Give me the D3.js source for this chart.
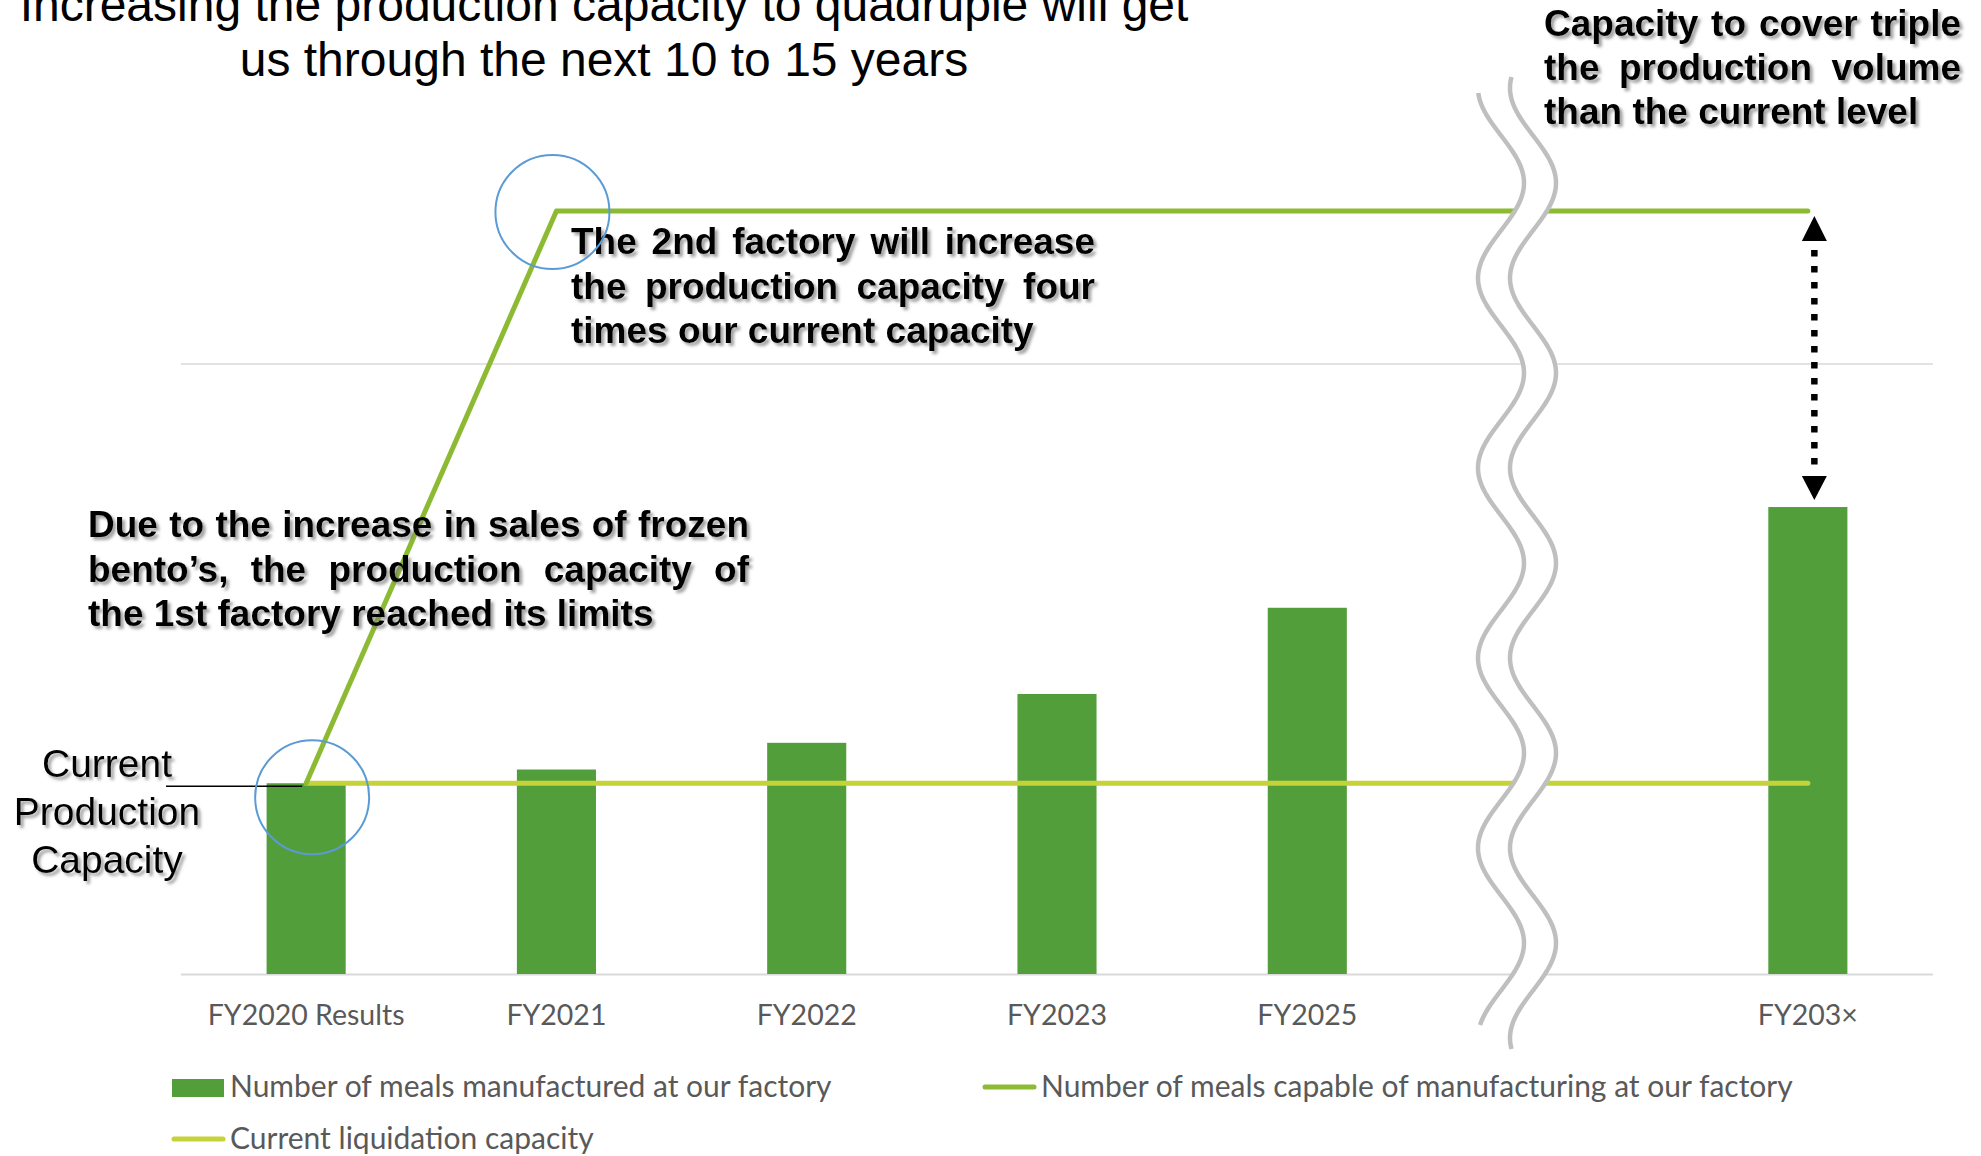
<!DOCTYPE html>
<html>
<head>
<meta charset="utf-8">
<script src="https://cdn.jsdelivr.net/npm/d3@7"></script>
<style>
  html, body { margin: 0; padding: 0; background: #fff; }
  svg { display: block; }
</style>
</head>
<body>
<svg id="chart" width="1981" height="1156"></svg>
<script>
// ---------------- DATA ----------------
const categories = ["FY2020 Results", "FY2021", "FY2022", "FY2023", "FY2025", "", "FY203×"];
const mealsManufactured = [25, 26.8, 30.3, 36.7, 48.0, null, 61.2];
const mealsCapable = [25, 100, 100, 100, 100, 100, 100];
const liquidationCapacity = [25, 25, 25, 25, 25, 25, 25];
const gridTicks = [0, 80];
const legendLabels = [
  "Number of meals manufactured at our factory",
  "Number of meals capable of manufacturing at our factory",
  "Current liquidation capacity"
];
const titleLines = [
  "Increasing the production capacity to quadruple will get",
  "us through the next 10 to 15 years"
];
const noteSecondFactory = [
  "The 2nd factory will increase",
  "the production capacity four",
  "times our current capacity"
];
const noteFirstFactory = [
  "Due to the increase in sales of frozen",
  "bento’s, the production capacity of",
  "the 1st factory reached its limits"
];
const noteTriple = [
  "Capacity to cover triple",
  "the production volume",
  "than the current level"
];
const currentCapacityLabel = ["Current", "Production", "Capacity"];

// ---------------- STYLE ----------------
const C = {
  bar: "#529E3A",
  capable: "#8CBB33",
  liquidation: "#C5D338",
  grid: "#D9D9D9",
  axisText: "#595959",
  circle: "#5B9BD5",
  wave: "#BFBFBF"
};

const svg = d3.select("#chart");
const W = 1981, H = 1156;
svg.append("rect").attr("width", W).attr("height", H).attr("fill", "#fff");

const defs = svg.append("defs");
const sh = defs.append("filter").attr("id", "shadow")
  .attr("x", "-5%").attr("y", "-20%").attr("width", "115%").attr("height", "150%");
sh.append("feDropShadow").attr("dx", 3).attr("dy", 3).attr("stdDeviation", 1.5)
  .attr("flood-color", "#6f6f6f").attr("flood-opacity", 0.65);

const plot = { left: 181, right: 1933, top: 211, bottom: 974 };

const x = d3.scaleBand().domain(categories)
  .range([plot.left, plot.right]).paddingInner(0.684).paddingOuter(0.342);
const y = d3.scaleLinear().domain([0, 100]).range([plot.bottom, plot.top]);
const cx = c => x(c) + x.bandwidth() / 2;

// gridlines
const gridAxis = d3.axisLeft(y).tickValues(gridTicks).tickSize(-(plot.right - plot.left)).tickFormat("");
const gg = svg.append("g").attr("transform", `translate(${plot.left},0)`).call(gridAxis);
gg.select(".domain").remove();
gg.selectAll(".tick line").attr("stroke", C.grid).attr("stroke-width", d => d === 0 ? 2 : 1.5);

// x axis labels
const xAxis = d3.axisBottom(x).tickSize(0).tickPadding(0);
const xg = svg.append("g").attr("transform", `translate(0,${plot.bottom})`).call(xAxis);
xg.select(".domain").remove();
xg.selectAll("text").attr("y", 51).attr("dy", 0)
  .attr("font-family", "Lato, 'Noto Sans', sans-serif").attr("font-size", 28.5)
  .attr("fill", C.axisText);

// bars
svg.append("g").selectAll("rect")
  .data(categories.map((c, i) => ({ c, v: mealsManufactured[i] })).filter(d => d.v != null))
  .join("rect")
  .attr("x", d => x(d.c)).attr("width", x.bandwidth())
  .attr("y", d => y(d.v)).attr("height", d => y(0) - y(d.v))
  .attr("fill", C.bar);

// lines
const lineGen = d3.line().x(d => cx(d.c)).y(d => y(d.v));
svg.append("path")
  .datum(categories.map((c, i) => ({ c, v: liquidationCapacity[i] })))
  .attr("d", lineGen).attr("fill", "none").attr("stroke", C.liquidation)
  .attr("stroke-width", 5).attr("stroke-linecap", "round").attr("stroke-linejoin", "round");
svg.append("path")
  .datum(categories.map((c, i) => ({ c, v: mealsCapable[i] })))
  .attr("d", lineGen).attr("fill", "none").attr("stroke", C.capable)
  .attr("stroke-width", 5).attr("stroke-linecap", "round").attr("stroke-linejoin", "round");

// wavy break (decoration)
const waveX = yy => 1501 - 23 * Math.cos(2 * Math.PI * (yy - 88) / 190);
const leftPts = d3.range(93, 1026.5, 2).map(yy => [waveX(yy), yy]);
const rightPts = d3.range(77, 1049.5, 2).map(yy => [waveX(yy) + 32, yy]);
svg.append("path")
  .attr("d", d3.line()(leftPts.concat(rightPts.slice().reverse())) + "Z")
  .attr("fill", "#fff");
[leftPts, rightPts].forEach(p => {
  svg.append("path").attr("d", d3.line().curve(d3.curveBasis)(p))
    .attr("fill", "none").attr("stroke", C.wave).attr("stroke-width", 4.5);
});

// dotted double arrow
const ax = cx("FY203×") + 6.5;
const aTop = y(mealsCapable[6]) + 5, aBot = y(mealsManufactured[6]) - 7;
svg.append("line").attr("x1", ax).attr("x2", ax).attr("y1", aTop + 34).attr("y2", aBot - 30)
  .attr("stroke", "#000").attr("stroke-width", 6.5).attr("stroke-dasharray", "6.5,9.5");
svg.append("path").attr("d", `M${ax},${aTop} L${ax + 12.5},${aTop + 25} L${ax - 12.5},${aTop + 25}Z`).attr("fill", "#000");
svg.append("path").attr("d", `M${ax},${aBot} L${ax + 12.5},${aBot - 24} L${ax - 12.5},${aBot - 24}Z`).attr("fill", "#000");

// text helpers
function textBlock(lines, x0, width, base0, lineH, opts) {
  const g = svg.append("g").attr("filter", opts.shadow ? "url(#shadow)" : null);
  lines.forEach((line, i) => {
    const t = g.append("text").attr("y", base0 + i * lineH)
      .attr("font-family", "'Liberation Sans', Arial, sans-serif")
      .attr("font-size", opts.size).attr("font-weight", opts.weight || "normal")
      .attr("fill", "#000");
    if (opts.align === "middle") {
      t.attr("x", x0).attr("text-anchor", "middle").text(line);
    } else if (!opts.justify || i === lines.length - 1) {
      t.attr("x", x0).text(line);
    } else {
      const words = line.split(" ");
      const spans = words.map(w => t.append("tspan").text(w));
      const ws = spans.map(s => s.node().getComputedTextLength());
      const gap = (width - d3.sum(ws)) / (words.length - 1);
      let xx = x0;
      spans.forEach((s, j) => { s.attr("x", xx); xx += ws[j] + gap; });
    }
  });
}

textBlock(titleLines, 604, 0, 21, 55, { size: 48, align: "middle" });
textBlock(noteTriple, 1544, 417, 36, 44, { size: 37, weight: "bold", justify: true, shadow: true });
textBlock(noteSecondFactory, 571, 524, 254, 44.5, { size: 37, weight: "bold", justify: true, shadow: true });
textBlock(noteFirstFactory, 88, 661, 537, 44.5, { size: 37, weight: "bold", justify: true, shadow: true });
textBlock(currentCapacityLabel, 107, 0, 777, 48, { size: 39, align: "middle", shadow: true });

// leader line
svg.append("line").attr("x1", 166).attr("x2", cx(categories[0]) - 4)
  .attr("y1", y(liquidationCapacity[0]) + 3).attr("y2", y(liquidationCapacity[0]) + 3)
  .attr("stroke", "#000").attr("stroke-width", 1.5);

// highlight circles
[[cx(categories[0]) + 6, y(liquidationCapacity[0]) + 14], [cx(categories[1]) - 4, y(mealsCapable[1]) + 1]]
  .forEach(([px, py]) => {
    svg.append("circle").attr("cx", px).attr("cy", py).attr("r", 57)
      .attr("fill", "none").attr("stroke", C.circle).attr("stroke-width", 2);
  });

// legend
const lg = svg.append("g").attr("font-family", "Lato, 'Noto Sans', sans-serif")
  .attr("font-size", 30).attr("fill", C.axisText);
const legendItems = [
  { label: legendLabels[0], type: "rect", color: C.bar, sx: 172, ty: 1097 },
  { label: legendLabels[1], type: "line", color: C.capable, sx: 983, ty: 1097 },
  { label: legendLabels[2], type: "line", color: C.liquidation, sx: 172, ty: 1149 }
];
legendItems.forEach(d => {
  if (d.type === "rect") {
    lg.append("rect").attr("x", d.sx).attr("y", d.ty - 18).attr("width", 52).attr("height", 18).attr("fill", d.color);
  } else {
    lg.append("line").attr("x1", d.sx + 2).attr("x2", d.sx + 51).attr("y1", d.ty - 10).attr("y2", d.ty - 10)
      .attr("stroke", d.color).attr("stroke-width", 5).attr("stroke-linecap", "round");
  }
  lg.append("text").attr("x", d.sx + 58).attr("y", d.ty).text(d.label);
});
</script>
</body>
</html>
